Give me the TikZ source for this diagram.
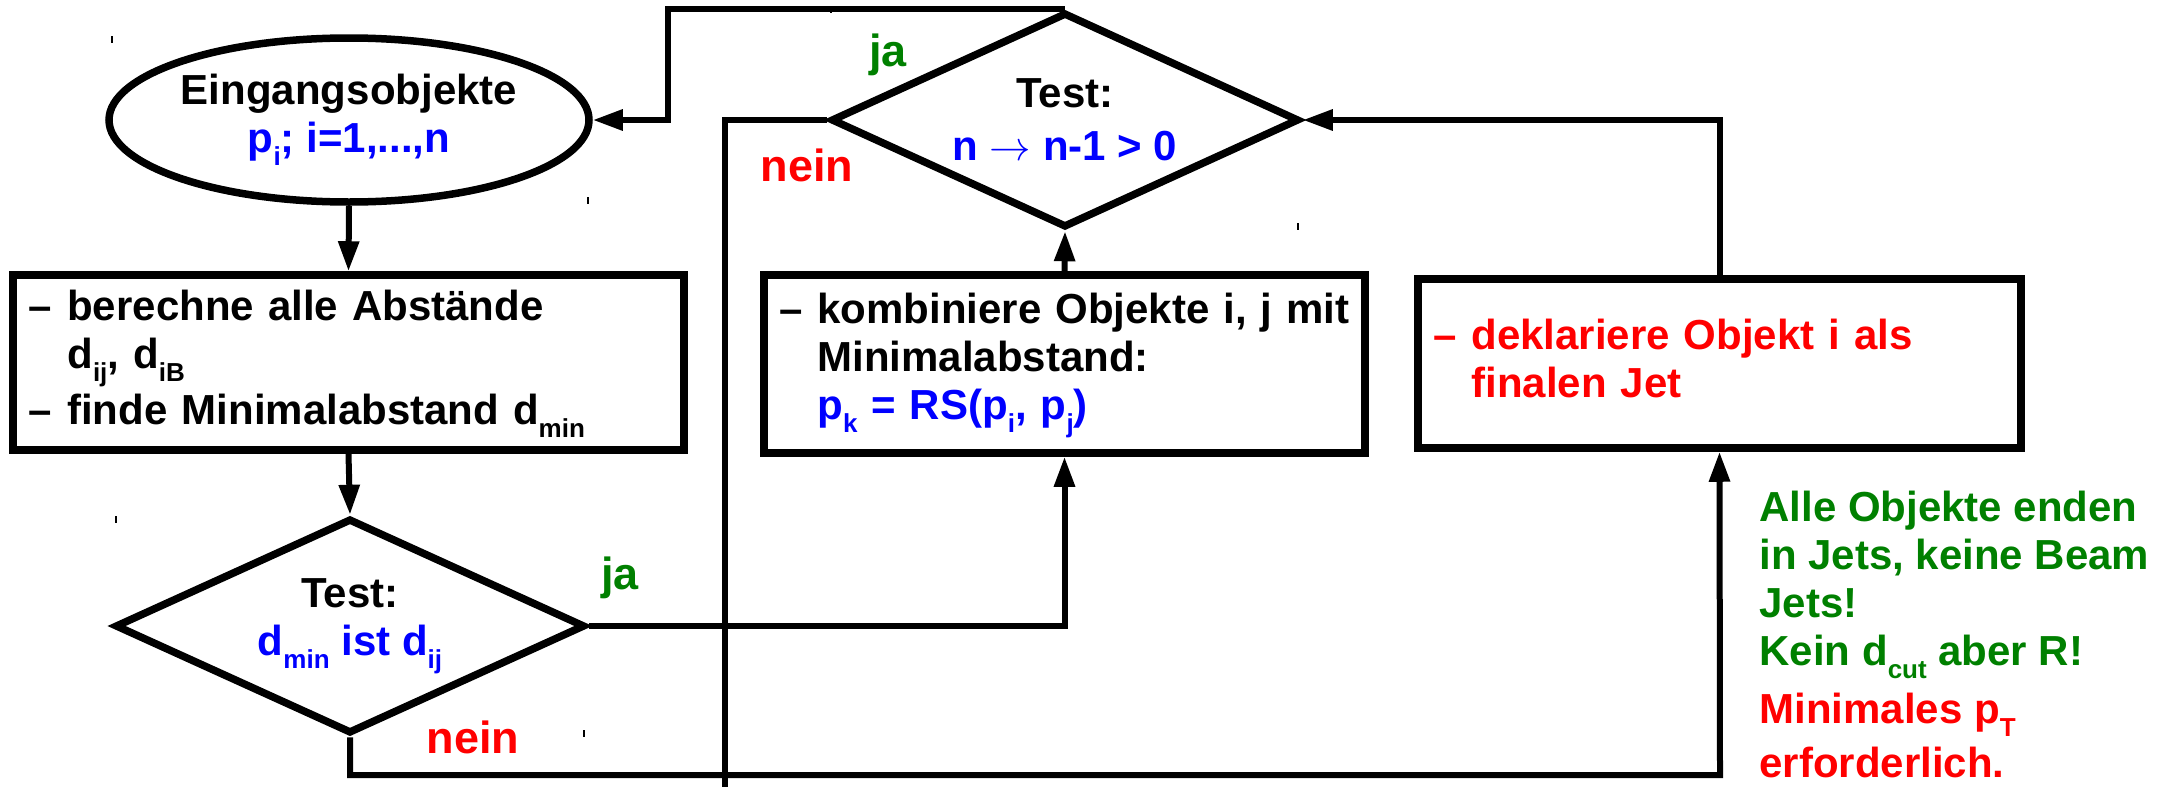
\documentclass[tikz,border=0pt]{standalone}
\usepackage{fontspec}
\setmainfont{Liberation Sans}
\usetikzlibrary{arrows.meta,shapes.geometric}
\setlength{\parindent}{0pt}
\definecolor{cblue}{RGB}{0,0,255}
\definecolor{cgreen}{RGB}{0,128,0}
\definecolor{cred}{RGB}{255,0,0}
\newcommand\lo[1]{\raisebox{-6.5pt}{\fontsize{13}{13}\selectfont #1}}
\begin{document}
\begin{tikzpicture}[x=0.5pt,y=-0.5pt,
  txt/.style={font=\fontsize{21}{24}\selectfont\bfseries},
  shp/.style={txt, draw, line width=3.75pt, fill=white, inner sep=0pt, line join=miter},
  boxx/.style={shp, rectangle, align=left, inner xsep=7.5pt},
  dia/.style={shp, diamond, align=center},
  ln/.style={line width=3pt},
  arr/.style={ln, -{Triangle[length=15pt,width=10pt]}},
  lbl/.style={font=\fontsize{22.5}{26}\selectfont\bfseries, inner sep=0pt},
  tick/.style={line width=0.6pt}]
\fill[white] (0,0) rectangle (2168,787);
\useasboundingbox (0,0) rectangle (2168,787);

% shapes
\node[shp, ellipse, align=center, minimum width=240pt, minimum height=82pt] (ell) at (349,120)
  {Eingangsobjekte\\ \textcolor{cblue}{p\lo{i}; i=1,...,n}};

\node[boxx, text width=320.5pt, minimum height=87.5pt] (calc) at (348.5,362.5)
  {\begin{tabular}{@{}l@{\hspace{8pt}}l@{}}
   –& berechne alle Abstände\\
    & d\lo{ij}, d\lo{iB}\\[4pt]
   –& finde Minimalabstand d\lo{min}
   \end{tabular}};

\node[dia, shape aspect=2.19, minimum width=235pt, minimum height=107.5pt] (t2) at (350,626)
  {Test:\\ \textcolor{cblue}{d\lo{min} ist d\lo{ij}}};

\node[dia, shape aspect=2.17, minimum width=234pt, minimum height=107.5pt] (t1) at (1065,120)
  {Test:\\[2.5pt] \textcolor{cblue}{n $\rightarrow$ n-1 > 0}};

\node[boxx, text width=285.5pt, minimum height=89pt] (comb) at (1064.5,364)
  {\begin{tabular}{@{}l@{\hspace{7.5pt}}l@{}}
   –& kombiniere Objekte i, j mit\\
    & Minimalabstand:\\
    & \textcolor{cblue}{p\lo{k} = RS(p\lo{i}, p\lo{j})}
   \end{tabular}};

\node[boxx, text=cred, text width=286.5pt, minimum height=84.5pt] (decl) at (1719.5,363.5)
  {\begin{tabular}{@{}l@{\hspace{7.5pt}}l@{}}
   –& deklariere Objekt i als\\
    & finalen Jet
   \end{tabular}};

% labels
\node[lbl, text=cgreen] (ja1) at (888,55) {ja};
\node[lbl, text=cred] (nein1) at (807,165) {nein};
\node[lbl, text=cgreen] (ja2) at (620,578) {ja};
\node[lbl, text=cred] (nein2) at (473,737) {nein};

\node[txt, anchor=north west, align=left, inner sep=0pt, text=cgreen] (note) at (1759,491)
  {Alle Objekte enden\\
   in Jets, keine Beam\\
   Jets!\\
   Kein d\lo{cut} aber R!\\[5pt]
   \textcolor{cred}{Minimales p\lo{T}}\\[3pt]
   \textcolor{cred}{erforderlich.}};

% helper coordinates
\coordinate (jx) at (668,120);
\coordinate (nbot) at (725,787);
\coordinate (bcorner) at (1720,775);

% connectors
\draw[arr] (ell.south) -- (calc.north);
\draw[arr] (calc.south) -- (t2.north);
\draw[arr] (t2.east) -| (comb.south);
\draw[arr] (comb.north) -- (t1.south);
\draw[arr] (t1.north) -| (jx) -- (ell.east);
\draw[ln] (t1.west) -| (nbot);
\draw[arr] (decl.north) |- (t1.east);
\draw[arr] (t2.south) |- (bcorner) -- (decl.south);

% bounding-box ticks
\draw[tick] (112,36) -- (112,43);
\draw[tick] (588,197) -- (588,204);
\draw[tick] (831,6) -- (831,13);
\draw[tick] (1298,223) -- (1298,230);
\draw[tick] (116,516) -- (116,523);
\draw[tick] (584,730) -- (584,737);
\end{tikzpicture}
\end{document}
